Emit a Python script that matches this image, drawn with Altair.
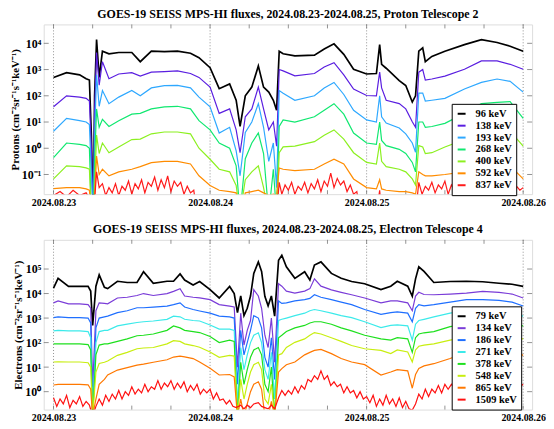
import altair as alt
import pandas as pd

# ---------------- Proton panel (hours after 2024-08-23 00:00 UTC, log10 flux) -------------
p_hours = [0, 2, 4, 5, 5.5,
           5.8, 6.1, 6.3, 6.6, 7,
           7.5, 8.5, 10, 12, 13.3,
           15, 17, 19, 21, 22.3,
           24, 25.4, 27, 28, 28.6,
           29.4, 30.4, 31.4, 32.2, 33,
           33.7, 34.2, 34.6, 35.2, 37,
           40, 41.5, 43, 44.5, 46,
           48, 49.5, 50, 50.3, 51,
           53, 54, 55, 55.5, 56,
           56.6, 57, 58, 60, 63,
           65.6, 68, 70, 72]

p96_log = [2.70, 2.88, 2.80, 2.65, 2.60,
           0.50, -2.50, 2.00, 4.14, 2.70,
           3.70, 3.60, 3.65, 3.65, 3.30,
           3.70, 3.68, 3.70, 3.62, 3.45,
           3.07, 2.27, 2.45, 1.83, 0.83,
           2.00, 2.33, 3.14, 2.33, 2.14,
           1.83, 1.45, 3.70, 3.60, 3.52,
           3.55, 3.78, 3.98, 3.58, 3.01,
           2.83, 2.85, 3.95, 3.20, 3.05,
           2.58, 2.39, 1.76, 2.00, 3.70,
           3.83, 3.30, 3.50, 3.70, 3.95,
           4.14, 4.03, 3.89, 3.70]
p138_log = [1.58, 2.00, 1.95, 1.90, 1.80,
            0.00, -2.50, 1.50, 3.65, 2.40,
            3.30, 2.65, 2.83, 2.88, 2.75,
            2.90, 2.92, 2.95, 2.85, 2.70,
            2.33, 1.33, 1.50, 0.70, -0.17,
            1.20, 1.50, 2.33, 1.50, 0.70,
            1.00, 0.08, 3.00, 2.95, 2.76,
            2.85, 3.10, 3.26, 2.80, 2.26,
            2.01, 2.00, 2.90, 2.30, 1.83,
            1.70, 1.50, 1.01, 0.80, 2.90,
            3.00, 2.60, 2.64, 2.75, 3.01,
            3.33, 3.33, 3.20, 3.01]
p193_log = [0.65, 1.14, 1.05, 1.00, 0.90,
            -1.00, -2.50, 0.50, 2.80, 1.60,
            2.20, 1.70, 1.95, 2.20, 2.00,
            2.30, 2.39, 2.40, 2.30, 1.95,
            1.58, 0.58, 0.80, -0.10, -1.05,
            0.60, 1.00, 1.70, 0.80, -0.50,
            0.20, -1.50, 2.20, 2.10, 1.83,
            2.00, 2.30, 2.51, 2.05, 1.45,
            1.08, 1.00, 2.00, 1.20, 0.96,
            0.77, 0.55, 0.20, -0.15, 2.10,
            2.10, 1.80, 1.83, 1.90, 2.26,
            2.51, 2.64, 2.55, 2.14]
p268_log = [-0.36, 0.20, 0.15, 0.10, 0.00,
            -2.50, -2.50, -0.50, 1.50, 0.80,
            1.10, 0.83, 1.05, 1.30, 1.33,
            1.50, 1.58, 1.60, 1.50, 1.05,
            0.70, 0.20, 0.00, -0.67, -2.50,
            -0.40, 0.20, 0.58, -0.20, -2.50,
            -0.80, -2.50, 0.83, 1.08, 1.00,
            1.20, 1.45, 1.70, 1.30, 0.58,
            0.20, 0.15, 1.00, 0.30, 0.10,
            -0.04, -0.20, -0.54, -0.90, 1.00,
            1.00, 0.80, 0.83, 0.95, 1.33,
            1.70, 1.75, 1.78, 1.14]
p400_log = [-1.17, -0.67, -0.70, -0.75, -0.80,
            -2.50, -2.50, -1.50, 0.50, -0.20,
            0.20, -0.17, 0.05, 0.33, 0.35,
            0.55, 0.62, 0.62, 0.55, 0.00,
            -0.42, -0.80, -0.90, -1.42, -2.50,
            -1.20, -0.90, -0.67, -1.50, -2.50,
            -2.50, -2.50, -0.17, 0.05, 0.08,
            0.25, 0.50, 0.70, 0.35, -0.17,
            -0.54, -0.60, 0.20, -0.50, -0.70,
            -0.80, -0.90, -1.17, -1.40, 0.10,
            0.05, -0.20, -0.17, 0.05, 0.33,
            0.58, 0.60, 0.65, 0.08]
p592_log = [-1.54, -1.50, -1.50, -1.55, -1.60,
            -2.50, -2.50, -1.80, -0.30, -1.00,
            -0.80, -1.05, -0.90, -0.80, -0.70,
            -0.55, -0.50, -0.50, -0.60, -1.05,
            -1.42, -1.60, -1.65, -1.70, -2.50,
            -1.70, -1.65, -1.60, -1.70, -1.80,
            -1.75, -1.80, -0.75, -0.80, -0.85,
            -0.80, -0.60, -0.42, -0.60, -1.17,
            -1.50, -1.55, -1.20, -1.55, -1.60,
            -1.65, -1.65, -1.70, -1.75, -0.90,
            -1.00, -1.05, -1.05, -1.00, -0.90,
            -0.75, -0.67, -0.67, -1.17]

# 837 keV is a noisy band near the floor: read at finer steps (upper / lower edges)
p837_hours = [0, 1, 2, 3, 4, 5, 5.5,
              5.8, 6.1, 6.3, 6.6, 7,
              7.5, 8, 8.5, 9, 9.5, 10, 10.5, 11, 11.5, 12,
              12.5, 13, 13.5, 14, 14.5, 15, 15.5, 16, 16.5, 17,
              17.5, 18, 18.5, 19, 19.5, 20, 20.5, 21, 21.5, 22,
              24, 30, 34.2,
              34.6, 35, 35.5, 36, 36.5, 37, 37.5, 38, 38.5, 39,
              39.5, 40, 40.5, 41, 41.5, 42, 42.5, 43, 43.5, 44,
              44.5, 45, 45.5, 46, 46.5, 47,
              49.5, 50, 50.3, 55.5,
              56, 56.5, 57, 57.5, 58, 58.5, 59, 59.5, 60, 60.5,
              61, 61.5, 62, 62.5, 63, 63.5, 64, 64.5, 65, 65.5,
              66, 66.5, 67, 67.5, 68, 68.5, 69, 69.5, 70, 70.5,
              71, 71.5, 72]
p837_log = [-1.80, -1.65, -1.85, -1.60, -1.80, -1.70, -1.90,
            -2.50, -2.50, -2.00, -0.90, -1.50,
            -1.35, -1.80, -1.50, -1.70, -1.35, -1.80, -1.45, -1.60, -1.25, -1.75,
            -1.35, -1.55, -1.20, -1.70, -1.30, -1.45, -1.10, -1.60, -1.20, -1.50,
            -1.05, -1.65, -1.25, -1.45, -1.30, -1.75, -1.45, -1.70, -1.60, -2.50,
            -2.50, -2.50, -2.50,
            -1.30, -1.75, -1.40, -1.60, -1.30, -1.75, -1.45, -1.60, -1.30, -1.70,
            -1.35, -1.55, -1.20, -1.65, -1.25, -1.45, -0.95, -1.50, -1.15, -1.40,
            -1.25, -1.65, -1.40, -1.75, -1.65, -2.50,
            -2.50, -1.60, -2.50, -2.50,
            -1.30, -1.75, -1.45, -1.60, -1.30, -1.70, -1.40, -1.55, -1.25, -1.75,
            -1.40, -1.60, -1.30, -1.65, -1.35, -1.50, -1.20, -1.70, -1.35, -1.55,
            -1.25, -1.65, -1.40, -1.55, -1.20, -1.70, -1.35, -1.60, -1.30, -1.75,
            -1.45, -1.60, -1.50]

p_labels = ["\u200796 keV", "138 keV", "193 keV", "268 keV", "400 keV", "592 keV", "837 keV"]
p_colors = ["#000000", "#5a1ee0", "#2ea8ff", "#10e870", "#8cf020", "#ff8c00", "#ff1a1a"]
p_series = [(p_hours, p96_log), (p_hours, p138_log), (p_hours, p193_log),
            (p_hours, p268_log), (p_hours, p400_log), (p_hours, p592_log),
            (p837_hours, p837_log)]

# ---------------- Electron panel -------------
e_hours = [0, 0.7, 2.3, 4, 5.3,
           5.7, 6.0, 6.5, 7, 7.8,
           8.3, 9.8, 11.3, 12.8, 13.8,
           15.3, 17.4, 18.4, 19.4, 20.1,
           21.4, 22.4, 24, 25.4, 27,
           27.7, 28.2, 28.7, 29.2, 29.7,
           30.2, 30.7, 31.4, 31.9, 32.4,
           32.9, 33.4, 33.9, 34.5, 35,
           35.7, 37, 38.5, 39.3, 40,
           41, 42.6, 44.1, 45.7, 47.7,
           50.2, 51.7, 52.7, 54.3, 55,
           55.5, 56, 56.8, 58.3, 60.8,
           63.3, 65.8, 68.3, 70.3, 72]

e79_log = [4.22, 4.62, 4.29, 4.29, 4.29,
           4.10, 2.70, 4.30, 4.76, 4.25,
           4.20, 4.50, 4.45, 4.45, 4.89,
           4.42, 4.50, 4.50, 4.80, 4.55,
           4.35, 4.49, 4.16, 3.82, 4.29,
           4.00, 3.22, 3.90, 3.10, 3.40,
           3.90, 4.82, 5.29, 4.90, 3.89,
           3.50, 3.90, 3.08, 5.36, 5.56,
           5.09, 4.62, 4.89, 4.55, 5.16,
           5.29, 4.82, 4.62, 4.49, 4.40,
           4.16, 4.30, 4.50, 4.30, 3.89,
           4.60, 5.09, 4.90, 4.45, 4.49,
           4.50, 4.48, 4.42, 4.38, 4.29]
e134_log = [3.62, 3.70, 3.58, 3.58, 3.55,
            3.40, 0.20, 3.30, 3.62, 3.60,
            3.58, 3.82, 3.85, 3.92, 4.00,
            3.92, 4.00, 4.09, 4.20, 3.90,
            3.85, 3.82, 3.75, 3.55, 3.49,
            3.45, 1.00, 3.20, 1.90, 2.50,
            2.90, 4.16, 3.90, 3.40, 2.30,
            1.80, 3.00, 1.20, 4.40, 4.30,
            4.10, 4.02, 4.10, 4.20, 4.60,
            4.30, 4.15, 4.05, 3.95, 3.82,
            3.62, 3.70, 3.70, 3.62, 3.30,
            3.90, 4.05, 3.96, 3.95, 3.98,
            4.02, 4.09, 4.05, 3.98, 3.82]
e186_log = [3.02, 3.05, 3.02, 3.02, 3.00,
            2.80, -1.00, 2.60, 3.00, 3.05,
            3.08, 3.22, 3.30, 3.42, 3.42,
            3.45, 3.49, 3.55, 3.62, 3.45,
            3.35, 3.29, 3.20, 3.08, 3.05,
            3.00, 0.30, 2.50, 1.50, 2.00,
            2.50, 3.10, 3.00, 2.60, 1.40,
            1.00, 2.20, 0.50, 3.70, 3.60,
            3.62, 3.70, 3.75, 3.80, 3.95,
            3.85, 3.75, 3.65, 3.55, 3.35,
            3.15, 3.22, 3.25, 3.20, 2.85,
            3.40, 3.55, 3.50, 3.55, 3.65,
            3.75, 3.75, 3.72, 3.65, 3.49]
e271_log = [2.48, 2.50, 2.48, 2.48, 2.45,
            2.20, -1.00, 2.00, 2.45, 2.50,
            2.50, 2.68, 2.75, 2.82, 2.85,
            2.88, 2.95, 3.08, 3.05, 2.95,
            2.90, 2.88, 2.72, 2.55, 2.55,
            2.50, -0.50, 1.80, 0.90, 1.50,
            2.00, 2.30, 2.40, 2.00, 0.90,
            0.50, 1.60, -0.30, 2.90, 2.95,
            3.00, 3.10, 3.20, 3.30, 3.35,
            3.30, 3.20, 3.10, 3.02, 2.85,
            2.61, 2.70, 2.72, 2.68, 2.10,
            2.75, 2.90, 2.95, 3.05, 3.20,
            3.29, 3.30, 3.28, 3.20, 3.08]
e378_log = [1.95, 1.95, 1.95, 1.95, 1.92,
            1.70, -1.00, 1.50, 1.90, 1.95,
            1.95, 2.05, 2.15, 2.28, 2.30,
            2.35, 2.50, 2.68, 2.60, 2.50,
            2.45, 2.41, 2.25, 2.00, 2.10,
            2.05, -1.00, 1.20, 0.30, 0.90,
            1.40, 1.70, 1.80, 1.50, 0.30,
            0.00, 1.00, -1.00, 2.20, 2.30,
            2.45, 2.60, 2.70, 2.80, 2.85,
            2.85, 2.75, 2.60, 2.48, 2.30,
            2.15, 2.10, 2.20, 2.15, 1.60,
            2.20, 2.35, 2.40, 2.45, 2.65,
            2.75, 2.78, 2.78, 2.72, 2.68]
e548_log = [1.21, 1.22, 1.21, 1.21, 1.18,
            1.00, -1.00, 0.80, 1.15, 1.20,
            1.25, 1.48, 1.60, 1.75, 1.78,
            1.80, 1.95, 2.08, 2.05, 1.95,
            1.88, 1.81, 1.62, 1.40, 1.48,
            1.45, -1.00, 0.50, -0.30, 0.30,
            0.80, 1.10, 1.20, 0.90, -0.30,
            -0.50, 0.30, -1.00, 1.50, 1.55,
            1.80, 2.01, 2.15, 2.30, 2.41,
            2.35, 2.20, 2.05, 1.88, 1.75,
            1.68, 1.55, 1.70, 1.62, 1.21,
            1.70, 1.85, 1.90, 1.95, 2.10,
            2.21, 2.25, 2.24, 2.20, 2.15]
e865_log = [0.27, 0.30, 0.30, 0.30, 0.28,
            0.10, -1.00, -0.30, 0.30, 0.50,
            0.68, 0.88, 0.98, 1.08, 1.12,
            1.20, 1.30, 1.41, 1.45, 1.42,
            1.35, 1.21, 0.95, 0.68, 0.70,
            0.60, -1.00, -0.30, -1.00, -0.50,
            0.00, 0.30, 0.40, 0.10, -1.00,
            -1.00, -0.40, -1.00, 0.80, 0.94,
            1.10, 1.21, 1.50, 1.60, 1.68,
            1.72, 1.55, 1.35, 1.21, 1.10,
            0.68, 0.80, 0.90, 0.85, 0.14,
            0.70, 0.95, 1.05, 1.14, 1.35,
            1.61, 1.70, 1.75, 1.70, 1.48]

# 1509 keV is a noisy band: read at finer steps (upper / lower edges)
e1509_hours = [0, 0.5, 1, 1.5, 2, 2.5, 3, 3.5, 4, 4.5,
               5, 5.5, 6.0, 6.5, 7, 7.5,
               8, 8.5, 9, 9.5, 10, 10.5, 11, 11.5, 12, 12.5,
               13, 13.5, 14, 14.5, 15, 15.5, 16, 16.5, 17, 17.5,
               18, 18.5, 19, 19.5, 20, 20.5, 21, 21.5, 22, 22.5,
               23, 23.5, 24, 24.5, 25, 25.5, 26, 26.5, 27, 27.5,
               28,
               28.7, 29.2, 29.7, 30.2, 30.7, 31.4, 31.9, 32.4, 32.9, 33.4, 33.9,
               34.5, 35, 35.5, 36, 36.5, 37, 37.5, 38, 38.5, 39,
               39.5, 40, 40.5, 41, 41.5, 42, 42.5, 43, 43.5, 44,
               44.5, 45, 45.5, 46, 46.5, 47, 47.5, 48, 48.5, 49,
               49.5, 50, 50.5, 51, 51.5, 52, 52.5, 53, 53.5, 54,
               54.5, 55, 55.5, 56, 56.5, 57, 57.5, 58, 58.5, 59,
               59.5, 60, 60.5, 61, 61.5, 62, 62.5, 63, 63.5, 64,
               64.5, 65, 65.5, 66, 66.5, 67, 67.5, 68, 68.5, 69,
               69.5, 70, 70.5, 71, 71.5, 72]
e1509_log = [-0.25, -0.60, -0.30, -0.50, -0.15, -0.65, -0.35, -0.50, -0.20, -0.60,
             -0.40, -0.55, -1.00, -0.60, -0.30, -0.55,
             -0.15, -0.40, -0.10, -0.30, 0.05, -0.30, 0.00, -0.15, 0.20, -0.10,
             0.10, -0.05, 0.30, 0.00, 0.20, 0.10, 0.45, 0.10, 0.35, 0.20,
             0.45, 0.10, 0.35, 0.15, 0.40, 0.00, 0.25, 0.05, 0.30, -0.10,
             0.10, -0.05, 0.10, -0.30, -0.05, -0.35, -0.30, -0.50, -0.35, -0.60,
             -0.65,
             -0.55, -0.70, -0.55, -0.65, -0.50, -0.45, -0.60, -0.65, -0.70, -0.55, -0.70,
             -0.25, 0.05, -0.15, 0.05, -0.10, 0.20, -0.05, 0.25, 0.10, 0.50,
             0.40, 0.65, 0.50, 0.85, 0.50, 0.65, 0.25, 0.40, 0.20, 0.30,
             -0.05, 0.20, -0.05, 0.05, -0.25, 0.00, -0.30, -0.20, -0.45, -0.15,
             -0.60, -0.30, -0.55, -0.15, -0.50, -0.30, -0.60, -0.25, -0.65, -0.40,
             -0.70, -0.75, -0.50, -0.10, -0.30, 0.10, -0.20, 0.10, -0.05, 0.25,
             -0.05, 0.30, 0.10, 0.30, 0.15, 0.50, 0.20, 0.45, 0.30, 0.55,
             0.20, 0.50, 0.30, 0.55, 0.20, 0.50, 0.35, 0.60, 0.25, 0.45,
             0.30, 0.55, 0.15, 0.45, 0.20, 0.30]

e_labels = ["\u2007\u200779 keV", "\u2007134 keV", "\u2007186 keV", "\u2007271 keV",
            "\u2007378 keV", "\u2007548 keV", "\u2007865 keV", "1509 keV"]
e_colors = ["#000000", "#7a3cd8", "#1f6fff", "#3ceaea", "#1ee01e", "#c8ee10", "#ff7800", "#ff1010"]
e_series = [(e_hours, e79_log), (e_hours, e134_log), (e_hours, e186_log),
            (e_hours, e271_log), (e_hours, e378_log), (e_hours, e548_log),
            (e_hours, e865_log), (e1509_hours, e1509_log)]

day_hours = [0, 24, 48, 72]
day_names = ["2024.08.23", "2024.08.24", "2024.08.25", "2024.08.26"]
six_hours = [0, 6, 12, 18, 24, 30, 36, 42, 48, 54, 60, 66, 72]

p_exps = [-1, 0, 1, 2, 3, 4]
e_exps = [0, 1, 2, 3, 4, 5]

FONT = "Liberation Serif"
W, H = 492, 171
X_DOMAIN = [-1.5, 73.37]
SUP = {"-": "\u207b", "0": "\u2070", "1": "\u00b9", "2": "\u00b2", "3": "\u00b3",
       "4": "\u2074", "5": "\u2075"}


def sup(n):
    return "".join(SUP[c] for c in str(n))


def build_df(series, labels):
    rows = []
    for lab, (hours, vals) in zip(labels, series):
        assert len(vals) == len(hours), (lab, len(vals), len(hours))
        for h, v in zip(hours, vals):
            rows.append({"t": h, "flux": 10 ** v, "ch": lab})
    return pd.DataFrame(rows)


def label_expr(exps):
    expr = "''"
    for e in reversed(exps):
        expr = f"(abs(log(datum.value)/LN10 - ({e})) < 0.1 ? '10{sup(e)}' : {expr})"
    return expr


day_expr = "''"
for h, n in zip(reversed(day_hours), reversed(day_names)):
    day_expr = f"(datum.value == {h} ? '{n}' : {day_expr})"


def panel(df, labels, colors, ylog_dom, exps, ytitle, title, leg_y, sym_size, sym_path):
    ydom = [10 ** ylog_dom[0], 10 ** ylog_dom[1]]
    xscale = alt.Scale(domain=X_DOMAIN, nice=False, zero=False)
    yscale = alt.Scale(type="log", domain=ydom, nice=False)
    xaxis = alt.Axis(values=day_hours, labelExpr=day_expr, title=None, ticks=False,
                     domain=False, grid=False, labelFont=FONT, labelFontSize=10,
                     labelFontWeight="bold", labelPadding=3, labelFlush=False,
                     labelOverlap=False, labelColor="#000")
    yaxis = alt.Axis(values=[10 ** e for e in exps], labelExpr=label_expr(exps),
                     title=ytitle, ticks=False, domain=False, grid=False,
                     labelFont=FONT, labelFontSize=12, labelFontWeight="bold",
                     labelPadding=3, titleFont=FONT, titleFontSize=11,
                     titleFontWeight="bold", titlePadding=1, labelColor="#000",
                     titleColor="#000")

    X = alt.X("t:Q", scale=xscale, axis=xaxis)
    Y = alt.Y("flux:Q", scale=yscale, axis=yaxis)

    lines = alt.Chart(df).mark_line(clip=True).encode(
        x=X, y=Y,
        color=alt.Color("ch:N", scale=alt.Scale(domain=labels, range=colors),
                        sort=labels,
                        legend=alt.Legend(orient="none", legendX=411, legendY=leg_y,
                                          direction="vertical", title=None,
                                          fillColor="white", strokeColor="black",
                                          padding=4, symbolType=sym_path,
                                          symbolStrokeWidth=2, symbolSize=sym_size,
                                          labelFont=FONT, labelFontSize=10.5,
                                          labelFontWeight="bold", labelColor="#000",
                                          rowPadding=0, labelOffset=8)),
        strokeWidth=alt.condition(alt.datum.ch == labels[0], alt.value(1.7), alt.value(1.2)),
    )

    days_df = pd.DataFrame({"t": day_hours})
    grid = alt.Chart(days_df).mark_rule(strokeDash=[1, 2], color="#777",
                                        strokeWidth=0.8).encode(x=X)

    six_df = pd.DataFrame({"t": six_hours})
    xt_bot = alt.Chart(six_df).mark_rule(color="#777", strokeWidth=0.8).encode(
        x=X, y=alt.value(H - 4), y2=alt.value(H))
    xt_top = alt.Chart(six_df).mark_rule(color="#777", strokeWidth=0.8).encode(
        x=X, y=alt.value(0), y2=alt.value(4))

    dec_df = pd.DataFrame({"flux": [10 ** e for e in exps]})
    yt_l = alt.Chart(dec_df).mark_rule(color="#777", strokeWidth=0.8).encode(
        y=Y, x=alt.value(0), x2=alt.value(5))
    yt_r = alt.Chart(dec_df).mark_rule(color="#777", strokeWidth=0.8).encode(
        y=Y, x=alt.value(W - 5), x2=alt.value(W))

    return alt.layer(grid, xt_bot, xt_top, yt_l, yt_r, lines).properties(
        width=W, height=H,
        title=alt.Title(title, font=FONT, fontSize=12, fontWeight="bold",
                        anchor="middle", offset=3, color="#000"))


p_df = build_df(p_series, p_labels)
e_df = build_df(e_series, e_labels)

top = panel(p_df, p_labels, p_colors, [-1.75, 4.72], p_exps,
            "Protons (cm\u207b\u00b2sr\u207b\u00b9s\u207b\u00b9keV\u207b\u00b9)",
            "GOES-19 SEISS MPS-HI fluxes, 2024.08.23-2024.08.25, Proton Telescope 2",
            80, 92, "M-0.83,0H0.83")
bot = panel(e_df, e_labels, e_colors, [-0.73, 6.19], e_exps,
            "Electrons (cm\u207b\u00b2sr\u207b\u00b9s\u207b\u00b9keV\u207b\u00b9)",
            "GOES-19 SEISS MPS-HI fluxes, 2024.08.23-2024.08.25, Electron Telescope 4",
            67, 100, "M-0.8,0H0.8")

chart = alt.vconcat(top, bot, spacing=15).resolve_scale(color="independent").properties(
    padding={"left": 0, "top": -2, "right": 0, "bottom": 0}
).configure_view(stroke="#888", strokeWidth=1).configure(background="white")

chart.save("out.html", embed_options={"renderer": "svg", "actions": False})
